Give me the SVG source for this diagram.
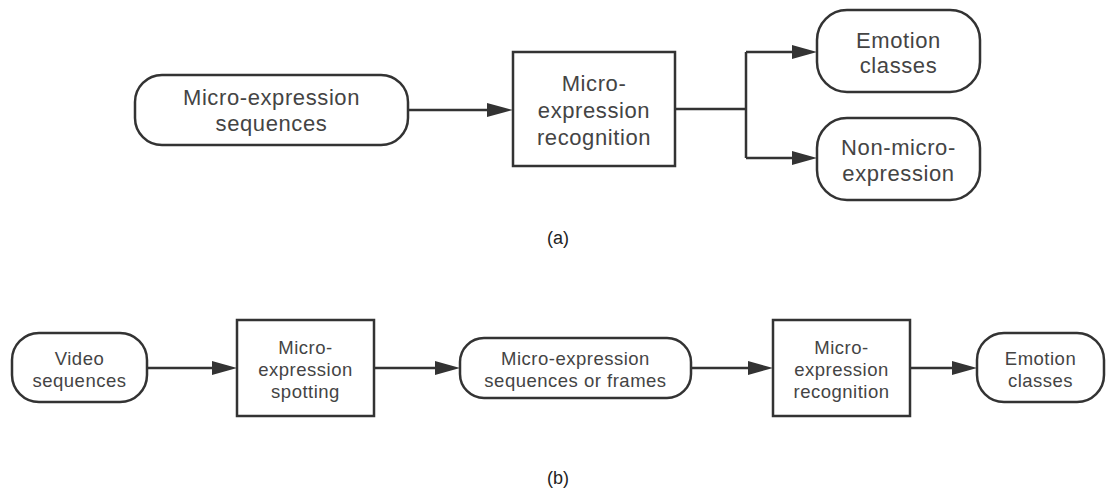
<svg xmlns="http://www.w3.org/2000/svg" width="1106" height="492" viewBox="0 0 1106 492">
<defs>
<style>
.n{fill:#fff;stroke:#333;stroke-width:2.5}
.t{font-family:"Liberation Sans",Arial,sans-serif;font-size:22px;letter-spacing:0.6px;fill:#444;text-anchor:middle}
.s{font-family:"Liberation Sans",Arial,sans-serif;font-size:18.5px;letter-spacing:0.5px;fill:#444;text-anchor:middle}
.c{font-family:"Liberation Sans",Arial,sans-serif;font-size:18px;fill:#222;text-anchor:middle}
.e{fill:none;stroke:#333;stroke-width:2.5}
.h{fill:#333}
</style>
</defs>
<rect width="1106" height="492" fill="#fff"/>
<g id="connectors">
<path class="e" d="M408,110 H489"/>
<polygon class="h" points="487,103 513,110 487,117"/>
<path class="e" d="M675,109 H746 M746,52 V158 M746,52 H795 M746,158 H795"/>
<polygon class="h" points="792,45 817,52 792,59"/>
<polygon class="h" points="792,151 817,158 792,165"/>
<path class="e" d="M147,368 H214"/>
<polygon class="h" points="212,361 237,368 212,375"/>
<path class="e" d="M374,368 H437"/>
<polygon class="h" points="435,361 460,368 435,375"/>
<path class="e" d="M691,368 H750"/>
<polygon class="h" points="748,361 773,368 748,375"/>
<path class="e" d="M910,368 H954"/>
<polygon class="h" points="952,361 977,368 952,375"/>
</g>
<g id="a-seq">
<rect class="n" x="135" y="75" width="273" height="70" rx="27"/>
<text class="t" x="271.5" y="105">Micro-expression<tspan x="271.5" dy="26">sequences</tspan></text>
</g>
<g id="a-rec">
<rect class="n" x="513" y="52" width="162" height="114"/>
<text class="t" x="594" y="91">Micro-<tspan x="594" dy="27">expression</tspan><tspan x="594" dy="27">recognition</tspan></text>
</g>
<g id="a-emo">
<rect class="n" x="817" y="10" width="163" height="82" rx="30"/>
<text class="t" x="898.5" y="48">Emotion<tspan x="898.5" dy="25">classes</tspan></text>
</g>
<g id="a-non">
<rect class="n" x="817" y="118" width="163" height="82" rx="30"/>
<text class="t" x="898.5" y="155">Non-micro-<tspan x="898.5" dy="26">expression</tspan></text>
</g>
<text class="c" x="558" y="244">(a)</text>
<g id="b-video">
<rect class="n" x="12" y="333" width="135" height="69" rx="27"/>
<text class="s" x="79.5" y="365">Video<tspan x="79.5" dy="22">sequences</tspan></text>
</g>
<g id="b-spot">
<rect class="n" x="237" y="320" width="137" height="96"/>
<text class="s" x="305.5" y="354">Micro-<tspan x="305.5" dy="22">expression</tspan><tspan x="305.5" dy="22">spotting</tspan></text>
</g>
<g id="b-frames">
<rect class="n" x="460" y="338" width="231" height="60" rx="24"/>
<text class="s" x="575.5" y="365">Micro-expression<tspan x="575.5" dy="22">sequences or frames</tspan></text>
</g>
<g id="b-rec">
<rect class="n" x="773" y="320" width="137" height="96"/>
<text class="s" x="841.5" y="354">Micro-<tspan x="841.5" dy="22">expression</tspan><tspan x="841.5" dy="22">recognition</tspan></text>
</g>
<g id="b-emo">
<rect class="n" x="977" y="333" width="127" height="69" rx="27"/>
<text class="s" x="1040.5" y="365">Emotion<tspan x="1040.5" dy="22">classes</tspan></text>
</g>
<text class="c" x="558" y="484">(b)</text>
</svg>
